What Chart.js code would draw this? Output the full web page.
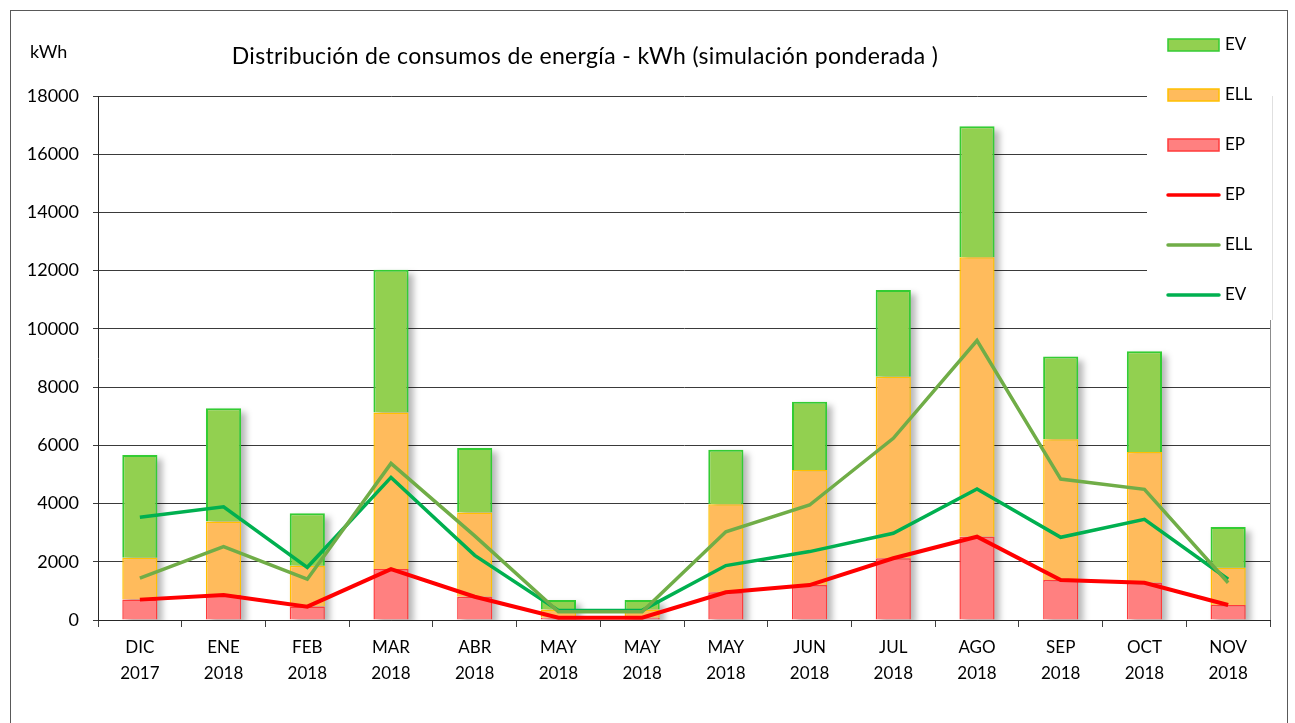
<!DOCTYPE html>
<html>
<head>
<meta charset="utf-8">
<script src="https://cdn.jsdelivr.net/npm/chart.js@4"></script>
<style>
html, body { margin: 0; padding: 0; background: #fff; }
</style>
</head>
<body>
<canvas id="consumoChart" width="1295" height="723"></canvas>
<script>
// datos (kWh)
const meses = [
    ['DIC', '2017'], ['ENE', '2018'], ['FEB', '2018'], ['MAR', '2018'], ['ABR', '2018'],
    ['MAY', '2018'], ['MAY', '2018'], ['MAY', '2018'], ['JUN', '2018'], ['JUL', '2018'],
    ['AGO', '2018'], ['SEP', '2018'], ['OCT', '2018'], ['NOV', '2018']
];
const consumoEP  = [700, 860, 460, 1750, 800, 80, 80, 950, 1200, 2120, 2860, 1370, 1280, 515];
const consumoELL = [1440, 2520, 1400, 5380, 2890, 280, 280, 3030, 3950, 6240, 9600, 4840, 4490, 1280];
const consumoEV  = [3530, 3890, 1810, 4900, 2220, 330, 330, 1870, 2350, 2980, 4500, 2840, 3460, 1400];
const ejeY = [0, 2000, 4000, 6000, 8000, 10000, 12000, 14000, 16000, 18000];

const fuente = 'Lato, "Open Sans", sans-serif';

// marco, titulo, sombras de barras y leyenda a la derecha
const decoracion = {
    id: 'decoracion',
    beforeDatasetsDraw(chart) {
        const ctx = chart.ctx;
        const area = chart.chartArea;
        const top = chart.getDatasetMeta(2);
        const base = chart.scales.y.getPixelForValue(0);
        ctx.save();
        ctx.beginPath();
        ctx.rect(area.left, area.top - 10, area.right - area.left + 10, area.bottom - area.top + 10);
        ctx.clip();
        ctx.fillStyle = 'rgba(0,0,0,0.28)';
        ctx.filter = 'blur(3px)';
        top.data.forEach(bar => {
            const p = bar.getProps(['x', 'y', 'width']);
            ctx.fillRect(p.x - p.width / 2 + 5, p.y + 4, p.width, base - p.y);
        });
        ctx.restore();
    },
    afterDraw(chart) {
        const ctx = chart.ctx;
        const area = chart.chartArea;
        ctx.save();
        // marco exterior
        ctx.strokeStyle = '#595959';
        ctx.lineWidth = 1;
        ctx.strokeRect(10.5, 10.5, 1277, 740);
        // borde derecho del area
        ctx.strokeStyle = '#8c8c8c';
        ctx.beginPath();
        ctx.moveTo(area.right + 0.5, area.top);
        ctx.lineTo(area.right + 0.5, area.bottom);
        ctx.stroke();

        ctx.fillStyle = '#000';
        ctx.textBaseline = 'middle';
        ctx.font = '18px ' + fuente;
        ctx.textAlign = 'left';
        ctx.fillText('kWh', 30, 52);
        ctx.font = '23px ' + fuente;
        ctx.letterSpacing = '0.35px';
        ctx.textAlign = 'center';
        ctx.fillText('Distribución de consumos de energía - kWh (simulación ponderada )', 585, 57);
        ctx.letterSpacing = '0px';

        // leyenda
        ctx.fillStyle = '#fff';
        ctx.fillRect(1147, 20, 124, 300);
        ctx.strokeStyle = '#e0e0e0';
        ctx.beginPath();
        ctx.moveTo(1272.5, 96);
        ctx.lineTo(1272.5, 320);
        ctx.stroke();
        const orden = [2, 1, 0, 3, 4, 5];
        orden.forEach((i, n) => {
            const ds = chart.data.datasets[i];
            const yc = 45 + n * 50;
            if (ds.type === 'bar') {
                ctx.fillStyle = ds.backgroundColor;
                ctx.fillRect(1168, yc - 6, 51, 12);
                ctx.strokeStyle = ds.borderColor;
                ctx.lineWidth = 1.5;
                ctx.strokeRect(1168, yc - 6, 51, 12);
            } else {
                ctx.strokeStyle = ds.borderColor;
                ctx.lineWidth = 3.5;
                ctx.lineCap = 'round';
                ctx.beginPath();
                ctx.moveTo(1168, yc);
                ctx.lineTo(1219, yc);
                ctx.stroke();
            }
            ctx.fillStyle = '#000';
            ctx.textAlign = 'left';
            ctx.font = '17px ' + fuente;
            ctx.fillText(ds.label, 1225, yc);
        });
        ctx.restore();
    }
};

const ctx = document.getElementById('consumoChart').getContext('2d');
const consumoChart = new Chart(ctx, {
    type: 'bar',
    data: {
        labels: meses,
        datasets: [{
                type: 'bar',
                label: 'EP',
                data: consumoEP,
                backgroundColor: '#FF8080',
                borderColor: '#FF3B3B',
                borderWidth: 1.5,
                order: 2
            },
            {
                type: 'bar',
                label: 'ELL',
                data: consumoELL,
                backgroundColor: '#FFBB5C',
                borderColor: '#FFC000',
                borderWidth: 1.5,
                order: 2
            },
            {
                type: 'bar',
                label: 'EV',
                data: consumoEV,
                backgroundColor: '#92D050',
                borderColor: '#33CC33',
                borderWidth: 2,
                order: 2
            },
            {
                type: 'line',
                label: 'EP',
                data: consumoEP,
                borderColor: '#FF0000',
                backgroundColor: '#FF0000',
                borderWidth: 4,
                pointRadius: 0,
                tension: 0,
                stack: 'lineas1',
                order: 0
            },
            {
                type: 'line',
                label: 'ELL',
                data: consumoELL,
                borderColor: '#70AD47',
                backgroundColor: '#70AD47',
                borderWidth: 3.5,
                pointRadius: 0,
                tension: 0,
                stack: 'lineas2',
                order: 1
            },
            {
                type: 'line',
                label: 'EV',
                data: consumoEV,
                borderColor: '#00B050',
                backgroundColor: '#00B050',
                borderWidth: 3.5,
                pointRadius: 0,
                tension: 0,
                stack: 'lineas3',
                order: 1
            }
        ]
    },
    options: {
        responsive: false,
        animation: false,
        devicePixelRatio: 1,
        layout: {
            padding: { left: 0, top: 96, right: 25, bottom: 0 }
        },
        datasets: {
            bar: { categoryPercentage: 1, barPercentage: 0.42 }
        },
        scales: {
            x: {
                stacked: true,
                grid: {
                    display: true,
                    drawOnChartArea: false,
                    drawTicks: true,
                    tickLength: 7,
                    color: '#404040'
                },
                border: { color: '#262626', width: 1 },
                ticks: {
                    color: '#000',
                    font: { family: fuente, size: 17, lineHeight: 1.56 },
                    padding: 7,
                    maxRotation: 0,
                    autoSkip: false
                },
                afterFit(scale) { scale.height = 103; }
            },
            y: {
                stacked: true,
                min: 0,
                max: 18000,
                afterBuildTicks(scale) { scale.ticks = ejeY.map(v => ({ value: v })); },
                grid: {
                    color: '#3a3a3a',
                    lineWidth: 1,
                    tickLength: 5
                },
                border: { color: '#262626', width: 1 },
                ticks: {
                    color: '#000',
                    font: { family: fuente, size: 18 },
                    padding: 14,
                    callback: v => String(v)
                },
                afterFit(scale) { scale.width = 98; }
            }
        },
        plugins: {
            legend: { display: false },
            title: { display: false },
            tooltip: { enabled: false }
        }
    },
    plugins: [decoracion]
});
</script>
</body>
</html>
